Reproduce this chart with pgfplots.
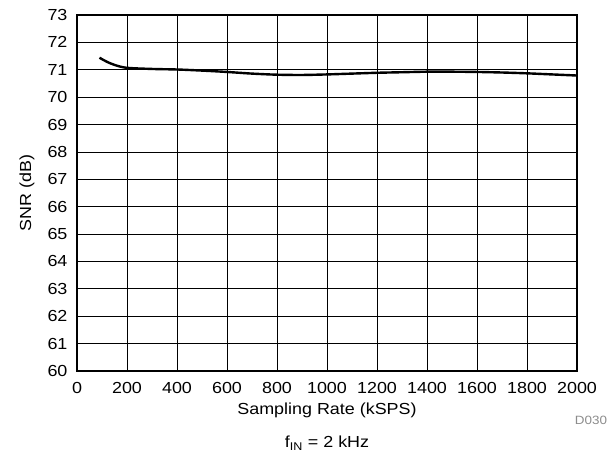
\documentclass[border=0pt]{standalone}
\usepackage{fontspec}
\setmainfont{Liberation Sans}[FakeStretch=1.12]
\usepackage{pgfplots}
\pgfplotsset{compat=1.18}
\begin{document}
\fontsize{16}{19}\selectfont
\begin{tikzpicture}[x=1pt,y=1pt]
\path[use as bounding box] (0,0) rectangle (615,458);
\begin{axis}[
  at={(77pt,87pt)}, anchor=south west,
  scale only axis, width=500pt, height=356pt,
  xmin=0, xmax=2000, ymin=60, ymax=73,
  xtick={0,200,...,2000}, ytick={60,61,...,73},
  major tick length=0pt,
  grid=major,
  major grid style={black, line width=0.8pt},
  axis line style={black, line width=2pt},
  axis on top=false,
  /pgf/number format/assume math mode=true,
  /pgf/number format/1000 sep={},
  tick label style={font=\fontsize{16}{19}\selectfont},
  xticklabel style={yshift=-6pt},
  yticklabel style={xshift=-4pt},
]
\addplot[black, line width=2.4pt, smooth, tension=0.5] coordinates {
(90,71.44) (132,71.24) (192,71.08) (300,71.03) (400,71.01) (500,70.97)
(600,70.92) (700,70.86) (800,70.82) (900,70.81) (1000,70.83) (1100,70.86)
(1200,70.89) (1300,70.91) (1400,70.93) (1500,70.93) (1600,70.92) (1700,70.90)
(1800,70.87) (1900,70.83) (2000,70.79)
};
\end{axis}
\node at (327,48) {Sampling Rate (kSPS)};
\node[rotate=90] at (27,265) {SNR (dB)};
\node[text=black!45, font=\fontsize{12}{14}\selectfont] at (591,38) {D030};
\node at (327,15) {f\textsubscript{IN} = 2 kHz};
\end{tikzpicture}
\end{document}
